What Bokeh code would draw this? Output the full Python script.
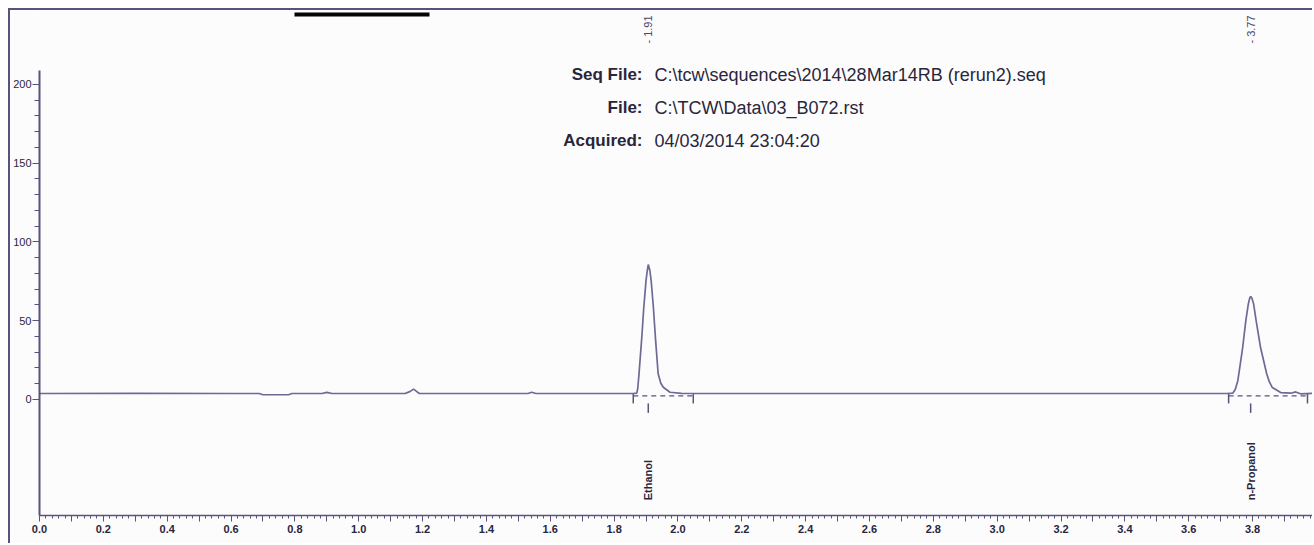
from math import pi
from bokeh.plotting import figure
from bokeh.models import Range1d, FixedTicker, Label, BoxAnnotation
from bokeh.core.properties import value
from bokeh.embed import file_html
from bokeh.resources import INLINE

# ---------------- data ----------------
trace_time = [0.000, 0.300, 0.600, 0.688, 0.700, 0.780, 0.791, 0.885, 0.900, 0.916,
              1.100, 1.145, 1.160, 1.172, 1.182, 1.190, 1.500, 1.530, 1.542, 1.555,
              1.800, 1.860, 1.871, 1.874, 1.878, 1.886, 1.893, 1.900, 1.904, 1.907,
              1.912, 1.916, 1.923, 1.930, 1.938, 1.946, 1.954, 1.975, 2.011, 2.300,
              2.700, 3.100, 3.500, 3.720, 3.738, 3.746, 3.754, 3.769, 3.779, 3.787,
              3.791, 3.794, 3.798, 3.803, 3.811, 3.825, 3.844, 3.852, 3.862, 3.888,
              3.920, 3.935, 3.950, 3.994]
trace_signal = [3.8, 3.9, 3.8, 3.8, 3.0, 3.0, 3.8, 3.8, 4.5, 3.8,
                3.8, 3.8, 5.0, 6.6, 5.0, 3.8, 3.8, 3.8, 4.6, 3.8,
                3.8, 3.8, 4.0, 7.0, 16.3, 37.5, 58.6, 75.6, 81.9, 85.7,
                81.9, 75.6, 58.6, 37.5, 16.3, 10.5, 7.8, 4.6, 3.9, 3.8,
                3.8, 3.8, 3.8, 3.8, 4.0, 6.5, 12.1, 33.0, 50.2, 61.0,
                64.3, 65.4, 64.3, 61.0, 50.2, 33.0, 16.5, 11.5, 7.6, 4.4,
                4.0, 4.8, 3.6, 3.9]

peak_names = ["Ethanol", "n-Propanol"]
peak_rt_text = ["- 1.91", "- 3.77"]
peak_apex = [1.907, 3.794]
peak_start = [1.860, 3.725]
peak_end = [2.048, 3.972]

y_tick_values = [0, 50, 100, 150, 200]
y_tick_labels = ["0", "50", "100", "150", "200"]
y_minor_values = [0, 10, 20, 30, 40, 50, 60, 70, 80, 90, 100, 110, 120, 130, 140,
                  150, 160, 170, 180, 190, 200]
x_tick_values = [i / 10 for i in range(40)]
x_tick_labels = [f"{v:.1f}" if i % 2 == 0 else "" for i, v in enumerate(x_tick_values)]
x_minor_values = [i / 50 for i in range(200)]

header_keys = ["Seq File:", "File:", "Acquired:"]
header_values = ["C:\\tcw\\sequences\\2014\\28Mar14RB (rerun2).seq",
                 "C:\\TCW\\Data\\03_B072.rst",
                 "04/03/2014 23:04:20"]

# ---------------- styling ----------------
AX = "#57537d"
TRACE = "#6d6a96"
TXT = "#29263c"
BG = "#fcfcfd"
FONT = "Liberation Sans"

p = figure(width=1304, height=535,
           x_range=Range1d(0, 3.994), y_range=Range1d(-73.65, 246.98),
           output_backend="svg", toolbar_location=None,
           min_border_left=27, min_border_right=0,
           min_border_top=0, min_border_bottom=30,
           background_fill_color=BG, border_fill_color=BG,
           outline_line_color=None)
# the printed page frame: a rule on the left and on top of the chart area
p.styles = {"margin-left": "8px", "margin-top": "8px",
            "border-left": f"2px solid {AX}", "border-top": f"2px solid {AX}"}
p.xgrid.visible = False
p.ygrid.visible = False

# redaction box just under the top rule (canvas pixels)
p.add_layout(BoxAnnotation(left=282, right=417, top=0, bottom=4,
                           left_units="canvas", right_units="canvas",
                           top_units="canvas", bottom_units="canvas",
                           fill_color="#050505", fill_alpha=1, line_alpha=0))

ya = p.yaxis[0]
ya.ticker = FixedTicker(ticks=y_tick_values, minor_ticks=y_minor_values)
ya.major_label_overrides = dict(zip(y_tick_values, y_tick_labels))
ya.bounds = (-73.65, 209)
ya.axis_line_color = AX
ya.axis_line_width = 2
ya.major_tick_line_color = AX
ya.minor_tick_line_color = AX
ya.major_tick_out = 7
ya.major_tick_in = 0
ya.minor_tick_out = 5
ya.minor_tick_in = 0
ya.major_label_standoff = 1
ya.major_label_text_font = FONT
ya.major_label_text_font_size = "11px"
ya.major_label_text_color = TXT

xa = p.xaxis[0]
xa.ticker = FixedTicker(ticks=x_tick_values, minor_ticks=x_minor_values)
xa.major_label_overrides = dict(zip(x_tick_values, x_tick_labels))
xa.axis_line_color = AX
xa.axis_line_width = 1.5
xa.major_tick_line_color = AX
xa.minor_tick_line_color = AX
xa.major_tick_out = 6
xa.major_tick_in = 0
xa.minor_tick_out = 3
xa.minor_tick_in = 0
xa.major_label_standoff = 3
xa.major_label_text_font = FONT
xa.major_label_text_font_size = "11px"
xa.major_label_text_font_style = "bold"
xa.major_label_text_color = TXT

# chromatogram trace
p.line(trace_time, trace_signal, line_color=TRACE, line_width=1.7)

# integration markers
p.segment(x0=peak_start, y0=[3.5] * 2, x1=peak_start, y1=[-2.5] * 2, line_color=AX, line_width=1.5)
p.segment(x0=peak_end, y0=[3.5] * 2, x1=peak_end, y1=[-2.5] * 2, line_color=AX, line_width=1.5)
p.segment(x0=peak_start, y0=[2.3] * 2, x1=peak_end, y1=[2.3] * 2, line_color=AX,
          line_width=1.2, line_dash="5 4")
p.segment(x0=peak_apex, y0=[-2.5] * 2, x1=peak_apex, y1=[-8.5] * 2, line_color=AX, line_width=1.5)

# peak names and retention times
p.text(x=peak_apex, y=[-64] * 2, text=peak_names, angle=pi / 2,
       text_align="left", text_baseline="middle",
       text_font=value(FONT), text_font_size="11px", text_font_style="bold",
       text_color=TXT)
p.text(x=peak_apex, y=[226] * 2, text=peak_rt_text, angle=pi / 2,
       text_align="left", text_baseline="middle",
       text_font=value(FONT), text_font_size="11px",
       text_color="#4b4766")

# header block (screen units relative to the frame's bottom-left)
rows_y = [441, 408, 375]
for key, val, yy in zip(header_keys, header_values, rows_y):
    p.add_layout(Label(x=603, y=yy, x_units="screen", y_units="screen", text=key,
                       text_align="right", text_baseline="alphabetic",
                       text_font=FONT, text_font_size="17px", text_font_style="bold",
                       text_color=TXT))
    p.add_layout(Label(x=615, y=yy, x_units="screen", y_units="screen", text=val,
                       text_align="left", text_baseline="alphabetic",
                       text_font=FONT, text_font_size="18px",
                       text_color=TXT))

open("out.html", "w").write(file_html(p, INLINE))
